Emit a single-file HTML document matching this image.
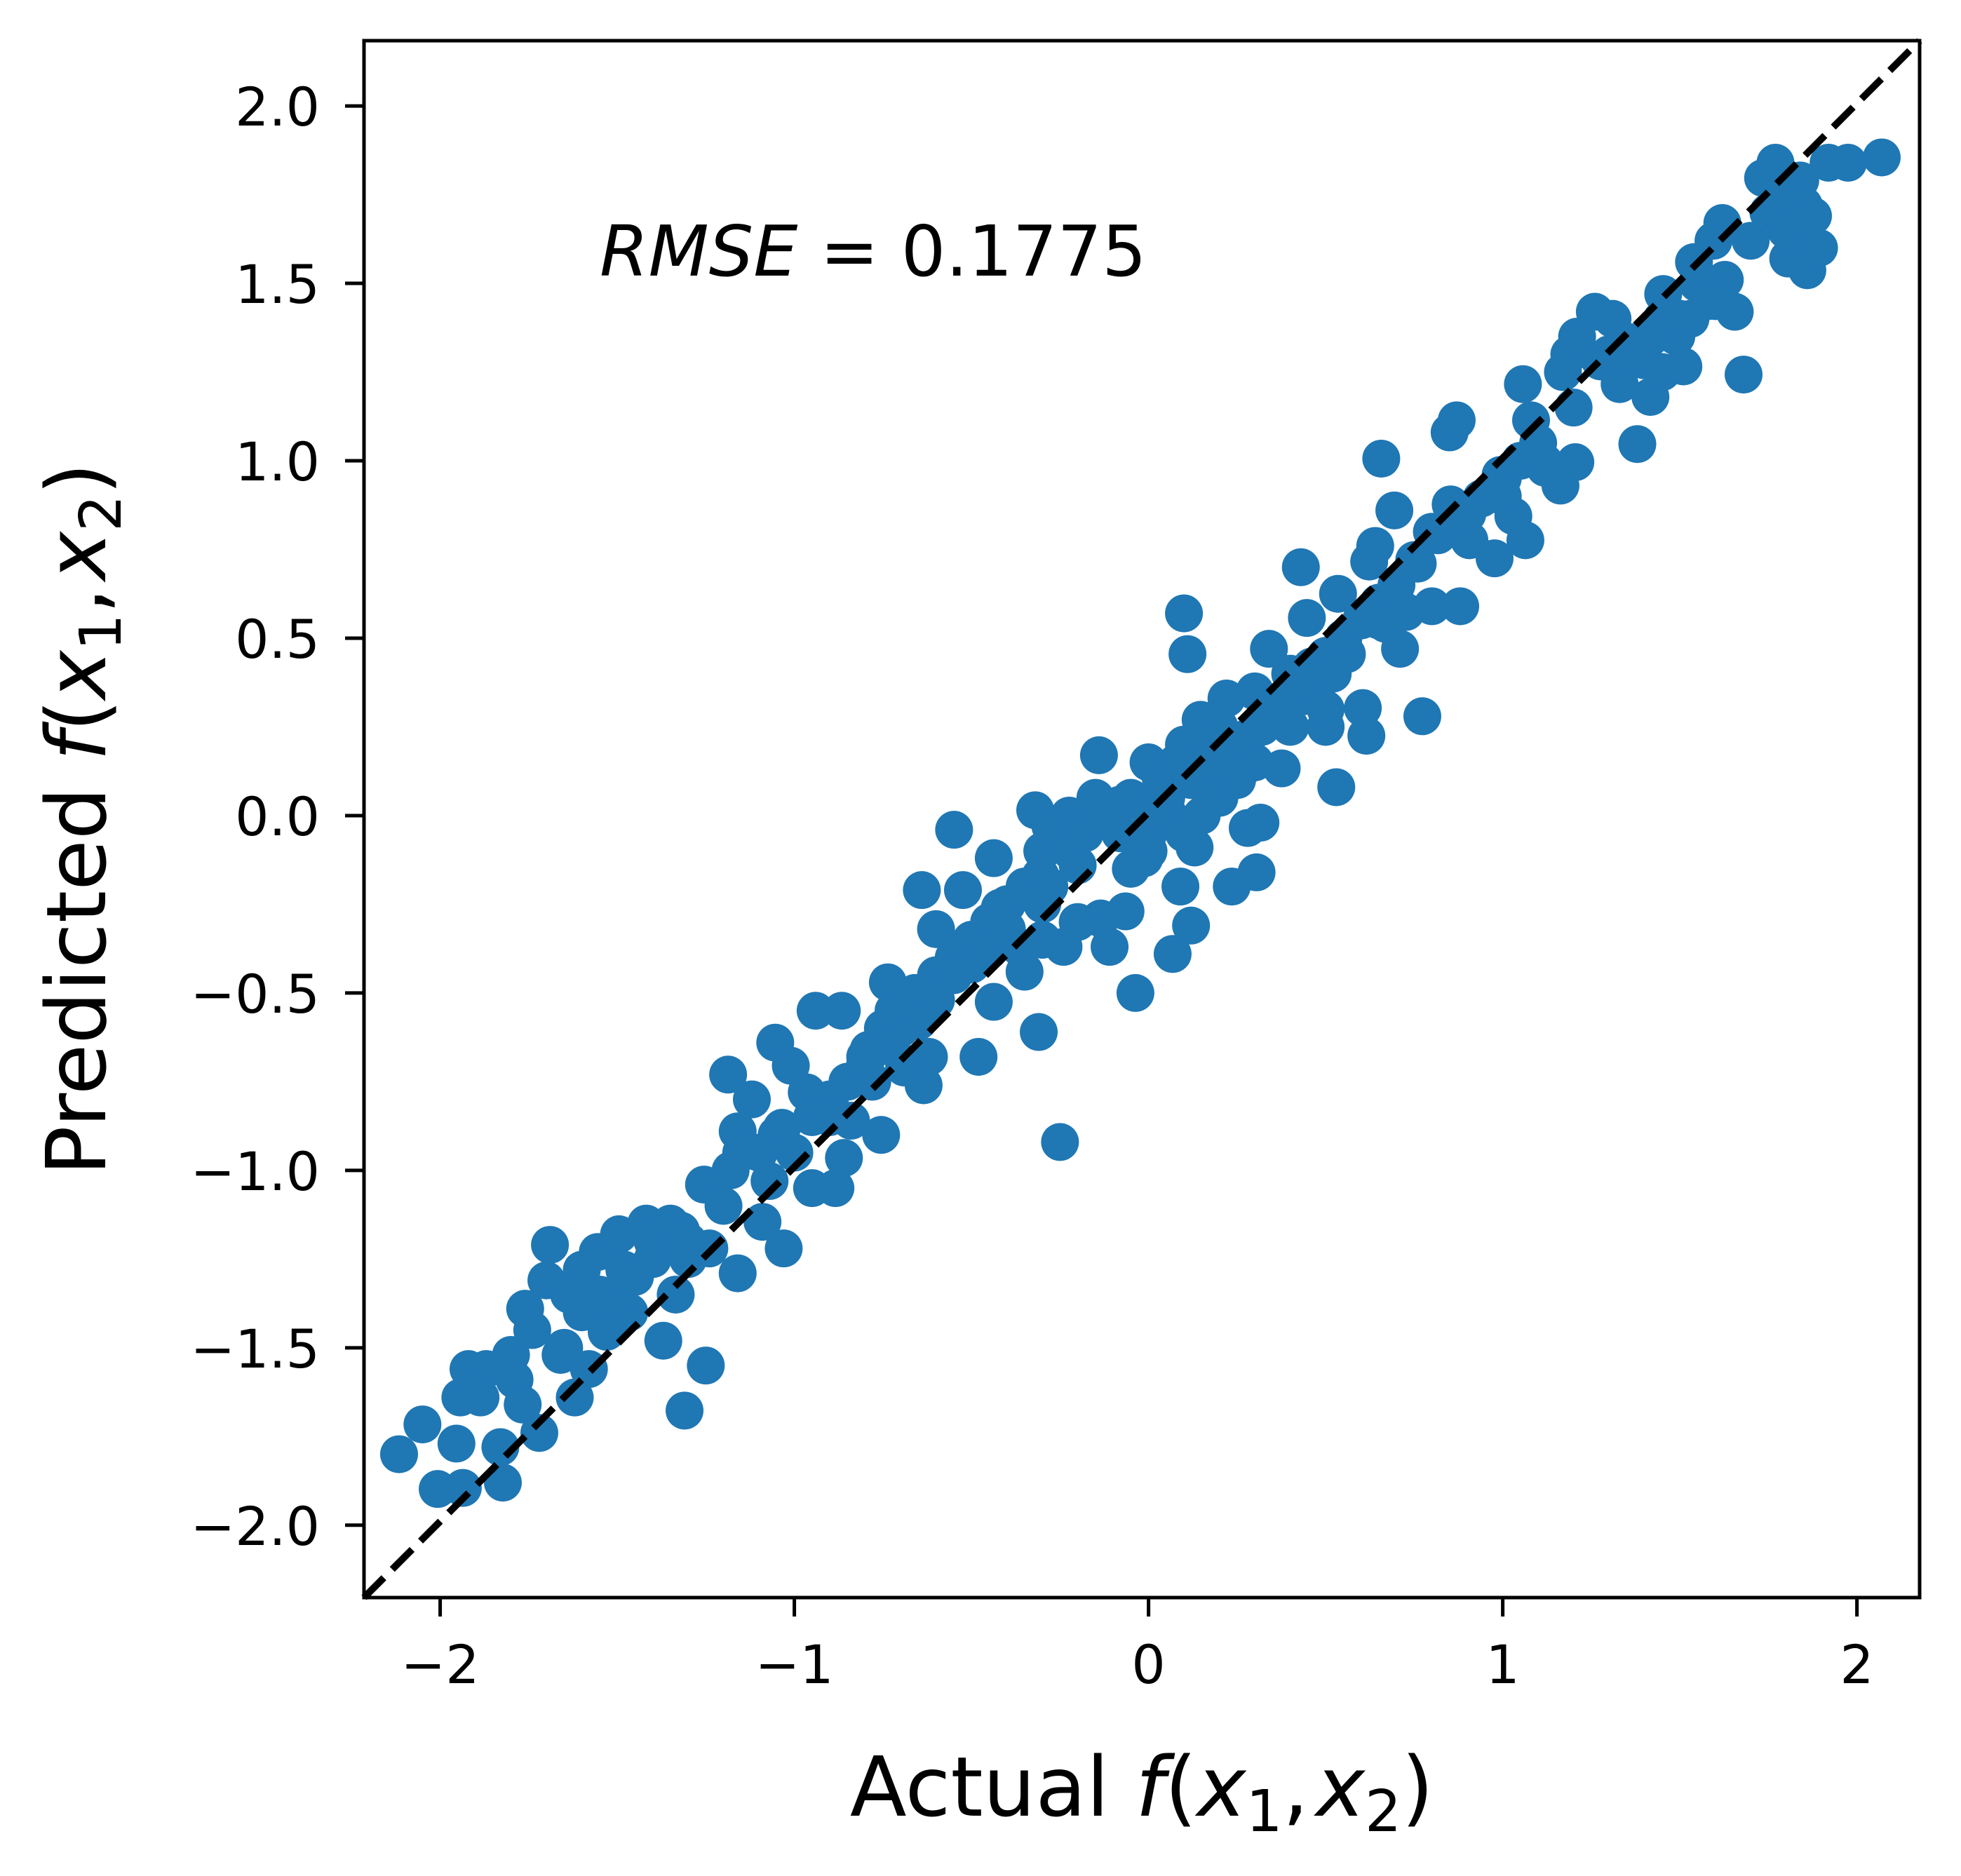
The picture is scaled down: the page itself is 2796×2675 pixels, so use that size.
<!DOCTYPE html>
<html><head><meta charset="utf-8">
<style>
html,body{margin:0;padding:0;background:#fff;}
svg{display:block;}
text{font-family:"DejaVu Sans","Liberation Sans",sans-serif;fill:#000;}
</style></head>
<body>
<svg id="chart" width="2796" height="2675" viewBox="0 0 2796 2675" xmlns="http://www.w3.org/2000/svg">
  <rect x="0" y="0" width="2796" height="2675" fill="#fff"/>
  <g id="points"></g>
  <g id="diag"></g>
  <rect x="519" y="58" width="2218" height="2220" fill="none" stroke="#000" stroke-width="5"/>
  <g id="xticks"></g>
  <g id="yticks"></g>
  <text x="855" y="393" font-size="100"><tspan font-style="italic">RMSE</tspan> = 0.1775</text>
  <text x="1628" y="2589" font-size="118" text-anchor="middle">Actual <tspan font-style="italic">f</tspan>(<tspan font-style="italic">x</tspan><tspan font-size="82" dy="22">1</tspan><tspan dy="-22">,</tspan><tspan dx="10" font-style="italic">x</tspan><tspan font-size="82" dy="22">2</tspan><tspan dy="-22">)</tspan></text>
  <text transform="translate(150,1168) rotate(-90)" x="0" y="0" font-size="118" text-anchor="middle">Predicted <tspan font-style="italic">f</tspan>(<tspan font-style="italic">x</tspan><tspan font-size="82" dy="22">1</tspan><tspan dy="-22">,</tspan><tspan dx="10" font-style="italic">x</tspan><tspan font-size="82" dy="22">2</tspan><tspan dy="-22">)</tspan></text>
</svg>
<script>
const xTicks = [-2, -1, 0, 1, 2];
const xTickLabels = ["\u22122", "\u22121", "0", "1", "2"];
const yTicks = [-2.0, -1.5, -1.0, -0.5, 0.0, 0.5, 1.0, 1.5, 2.0];
const yTickLabels = ["\u22122.0", "\u22121.5", "\u22121.0", "\u22120.5", "0.0", "0.5", "1.0", "1.5", "2.0"];
const actualValues = [
-2.116,-2.05,-2.007,-1.936,-1.954,-1.943,-1.92,-1.886,-1.87,-1.83,-1.823,-1.80,-1.79,-1.76,-1.74,-1.767,-1.72,-1.69,-1.70,-1.66,-1.636,-1.62,-1.6,-1.58,-1.555,-1.55,-1.53,-1.495,-1.48,-1.466,-1.418,-1.39,-1.37,-1.35,-1.32,-1.335,-1.31,-1.30,-1.25,-1.255,-1.24,-1.18,-1.187,-1.16,-1.16,-1.12,-1.09,-1.07,-1.054,-1.03,-1.01,-1.035,-0.965,-0.94,-0.95,-0.884,-0.866,-0.86,-0.84,-0.79,-0.755,-0.736,-0.73,-0.69,-0.65,-0.64,-0.635,-0.62,-0.60,-0.549,-0.524,-0.48,-0.47,-0.437,-0.42,-0.437,-0.366,-0.35,-0.32,-0.31,-0.305,-0.277,-0.25,-0.24,-0.224,-0.2,-0.14,-0.135,-0.11,-0.083,-0.065,-0.037,-0.012,0,0.034,0.058,0.068,0.09,0.1,0.11,0.12,0.13,0.147,0.17,0.22,0.235,0.263,0.28,0.305,0.316,0.34,0.366,0.376,0.43,0.436,0.447,0.48,0.5,0.53,0.535,0.56,0.605,0.615,0.623,0.64,0.657,0.67,0.694,0.71,0.727,0.76,0.773,0.8,0.817,0.85,0.87,0.853,0.88,0.906,0.94,0.977,0.994,1.03,1.057,1.064,1.08,1.117,1.163,1.17,1.205,1.188,1.21,1.26,1.276,1.31,1.33,1.365,1.38,1.4,1.417,1.453,1.49,1.51,1.53,1.54,1.578,1.595,1.62,1.627,1.655,1.68,1.70,1.735,1.77,1.787,1.806,1.84,1.86,1.876,1.893,1.84,1.92,1.975,2.07,
-0.95,-0.9,-0.85,-0.8,-0.75,-0.7,-0.66,-0.55,-0.5,-0.45,-0.4,-0.35,-0.3,-0.25,-0.2,-0.15,-0.1,-0.05,0.0,0.05,0.1,0.15,0.2,0.25,0.3,0.35,0.4,0.45,0.5,0.55,0.6,0.65,0.7,0.75,0.8,0.9,1.0,1.1,1.2,1.3,1.45,1.55,1.6,-1.2,-1.3,-1.4,-1.5,-1.6,-1.65,-1.1,-1.05,-0.6,0.0,0.1,0.2,-0.05,0.3,0.5,0.4,-0.2,-0.3,1.75,1.8,-0.72,-0.78,0.15,0.25,
-0.75,-0.7,-0.68,-0.72,-0.8,-0.65,-0.6,-0.55,-0.5,-0.45,-0.4,-0.28,-0.22,-0.18,-0.12,-0.08,0.05,0.08,0.12,0.18,0.22,0.28,0.32,0.38,0.42,0.46,0.52,1.35,1.42,1.5,1.45,1.58,1.0,1.05,1.12,-1.4,-1.45,-1.55,-1.15,-1.0,0.0,-0.3,1.85,1.8,0.7,0.65,-0.9];
const predictedValues = [
-1.80,-1.716,-1.898,-1.895,-1.77,-1.64,-1.56,-1.64,-1.56,-1.78,-1.88,-1.52,-1.59,-1.39,-1.45,-1.66,-1.74,-1.21,-1.31,-1.52,-1.35,-1.64,-1.28,-1.56,-1.23,-1.39,-1.455,-1.18,-1.28,-1.40,-1.15,-1.22,-1.48,-1.15,-1.17,-1.35,-1.677,-1.25,-1.55,-1.04,-1.22,-1.00,-0.73,-1.29,-0.89,-0.80,-1.145,-1.03,-0.64,-1.22,-0.705,-0.88,-0.78,-0.55,-1.05,-1.05,-0.55,-0.965,-0.86,-0.66,-0.90,-0.47,-0.625,-0.71,-0.54,-0.21,-0.76,-0.68,-0.32,-0.04,-0.21,-0.68,-0.37,-0.12,-0.26,-0.525,-0.37,-0.44,0.015,-0.61,-0.17,-0.03,-0.92,-0.37,0,-0.14,0.17,-0.29,-0.37,0.03,-0.27,-0.50,-0.12,0.15,0.107,0,-0.39,-0.2,0.57,0.455,-0.31,-0.09,0.27,0.07,0.33,-0.2,0.13,-0.035,-0.16,-0.02,0.47,0.27,0.133,0.70,0.336,0.557,0.404,0.25,0.08,0.625,0.455,0.303,0.225,0.716,0.76,1.006,0.54,0.86,0.47,0.574,0.71,0.28,0.59,0.79,1.08,1.114,0.877,0.59,0.776,0.894,0.725,0.96,0.844,1.216,0.776,1.114,0.996,0.93,1.25,0.996,1.30,1.35,1.42,1.28,1.40,1.216,1.334,1.047,1.283,1.18,1.47,1.35,1.266,1.40,1.56,1.47,1.62,1.67,1.51,1.42,1.243,1.62,1.797,1.84,1.706,1.57,1.64,1.537,1.69,1.60,1.79,1.84,1.84,1.855,
-0.85,-0.8,-0.75,-0.7,-0.6,-0.55,-0.5,-0.4,-0.35,-0.3,-0.25,-0.2,-0.1,-0.05,-0.02,0.05,-0.02,0.05,0.02,0.1,0.2,0.15,0.25,0.2,0.35,0.3,0.4,0.35,0.45,0.5,0.55,0.6,0.65,0.72,0.8,0.85,0.95,1.05,1.15,1.3,1.4,1.5,1.45,-1.1,-1.2,-1.25,-1.35,-1.4,-1.5,-0.95,-0.9,-0.45,-0.1,-0.05,0.05,-0.15,0.15,0.3,0.25,-0.3,-0.35,1.7,1.65,-0.62,-0.75,0.0,0.1,
-0.65,-0.6,-0.7,-0.55,-0.68,-0.58,-0.52,-0.45,-0.42,-0.38,-0.32,-0.2,-0.1,-0.05,0.0,-0.05,0.05,0.15,0.1,0.2,0.15,0.22,0.25,0.32,0.38,0.42,0.4,1.3,1.35,1.4,1.25,1.45,0.9,1.0,0.98,-1.2,-1.3,-1.35,-0.95,-0.95,-0.05,-0.25,1.72,1.75,0.6,0.55,-0.85];

const X0 = 519, X1 = 2737, Y0 = 2278, Y1 = 58;
const xMin = -2.215, xMax = 2.177, yMin = -2.204, yMax = 2.184;
function sx(v){ return X0 + (v - xMin) / (xMax - xMin) * (X1 - X0); }
function sy(v){ return Y0 - (v - yMin) / (yMax - yMin) * (Y0 - Y1); }
const NS = "http://www.w3.org/2000/svg";

const pts = document.getElementById('points');
for (let i = 0; i < actualValues.length; i++) {
  const c = document.createElementNS(NS, 'circle');
  c.setAttribute('cx', sx(actualValues[i]));
  c.setAttribute('cy', sy(predictedValues[i]));
  c.setAttribute('r', 27);
  c.setAttribute('fill', '#1f77b4');
  
  
  pts.appendChild(c);
}

const d = document.getElementById('diag');
const ln = document.createElementNS(NS, 'line');
ln.setAttribute('x1', X0); ln.setAttribute('y1', Y0);
ln.setAttribute('x2', X1); ln.setAttribute('y2', Y1);
ln.setAttribute('stroke', '#000'); ln.setAttribute('stroke-width', 10);
ln.setAttribute('stroke-dasharray', '40 17');


d.appendChild(ln);

const xg = document.getElementById('xticks');
xTicks.forEach((t, i) => {
  const x = sx(t);
  const tk = document.createElementNS(NS, 'line');
  tk.setAttribute('x1', x); tk.setAttribute('x2', x);
  tk.setAttribute('y1', Y0); tk.setAttribute('y2', Y0 + 27);
  tk.setAttribute('stroke', '#000'); tk.setAttribute('stroke-width', 5);
  
  
  xg.appendChild(tk);
  const tx = document.createElementNS(NS, 'text');
  tx.setAttribute('x', x); tx.setAttribute('y', 2400);
  tx.setAttribute('font-size', 76); tx.setAttribute('text-anchor', 'middle');
  tx.textContent = xTickLabels[i];
  
  
  xg.appendChild(tx);
});

const yg = document.getElementById('yticks');
yTicks.forEach((t, i) => {
  const y = sy(t);
  const tk = document.createElementNS(NS, 'line');
  tk.setAttribute('x1', X0 - 27); tk.setAttribute('x2', X0);
  tk.setAttribute('y1', y); tk.setAttribute('y2', y);
  tk.setAttribute('stroke', '#000'); tk.setAttribute('stroke-width', 5);
  
  
  yg.appendChild(tk);
  const tx = document.createElementNS(NS, 'text');
  tx.setAttribute('x', 456); tx.setAttribute('y', y + 28);
  tx.setAttribute('font-size', 76); tx.setAttribute('text-anchor', 'end');
  tx.textContent = yTickLabels[i];
  
  
  yg.appendChild(tx);
});
</script>
</body></html>
